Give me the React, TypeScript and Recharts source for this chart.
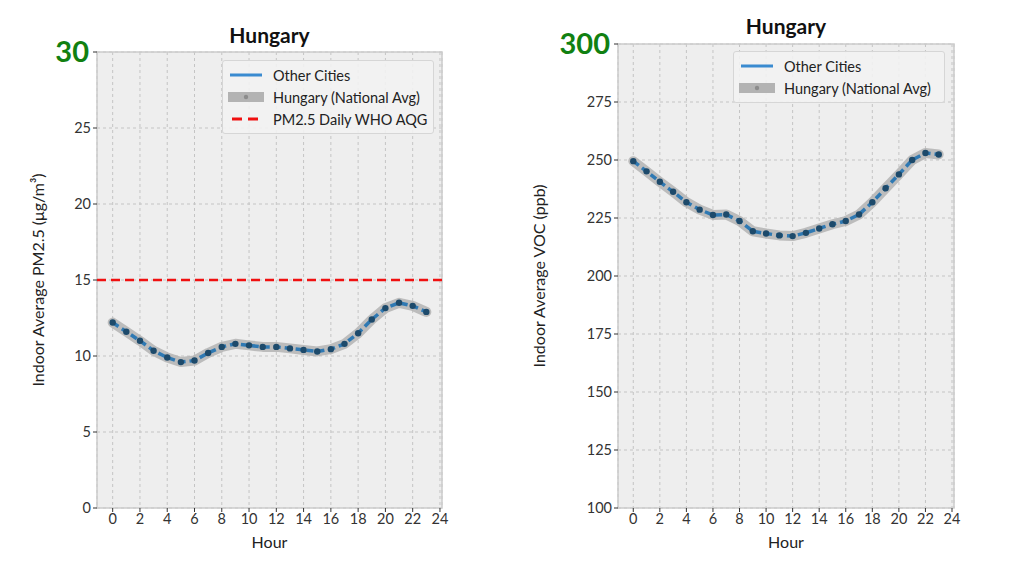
import React from "react";
import {
  CartesianGrid,
  Line,
  LineChart,
  ReferenceArea,
  ReferenceLine,
  XAxis,
  YAxis
} from "recharts";

const hours = [0, 1, 2, 3, 4, 5, 6, 7, 8, 9, 10, 11, 12, 13, 14, 15, 16, 17, 18, 19, 20, 21, 22, 23];
const hourTicks = [0, 2, 4, 6, 8, 10, 12, 14, 16, 18, 20, 22, 24];

const pm25Values = [
  12.2, 11.6, 11.0, 10.35, 9.9, 9.6, 9.7, 10.2, 10.6, 10.8, 10.7, 10.6,
  10.6, 10.5, 10.4, 10.3, 10.45, 10.8, 11.5, 12.4, 13.15, 13.5, 13.3, 12.9
];
const pm25Ticks = [0, 5, 10, 15, 20, 25, 30];
const pm25Guideline = 15;

const vocValues = [
  249.5, 245.1, 240.6, 236.3, 231.8, 228.6, 226.3, 226.5, 223.7, 219.3, 218.3, 217.5,
  217.2, 218.6, 220.5, 222.3, 223.7, 226.5, 231.8, 237.8, 243.8, 250.0, 253.0, 252.4
];
const vocTicks = [100, 125, 150, 175, 200, 225, 250, 275, 300];

const FONT = "Lato, 'Noto Sans', sans-serif";
const BLUE = "#2f79b3";
const DOT = "#1d4a6b";
const BAND = "#b3b3b3";

type LegendItem = { label: string; kind: "blue" | "band" | "red" };

function LegendBox(props: { items: LegendItem[] }): React.JSX.Element {
  return (
    <div
      style={{
        background: "rgba(242,242,242,0.9)",
        border: "1px solid #d6d6d6",
        borderRadius: 3,
        padding: "3px 5px",
        fontFamily: FONT,
        fontSize: 14.5,
        color: "#222",
        whiteSpace: "nowrap"
      }}
    >
      {props.items.map((item) => (
        <div key={item.label} style={{ display: "flex", alignItems: "center", height: 22 }}>
          <svg width={36} height={12} style={{ marginRight: 9, flexShrink: 0 }}>
            {item.kind === "blue" && <line x1={2} x2={34} y1={6} y2={6} stroke="#3a8bd0" strokeWidth={3} />}
            {item.kind === "band" && (
              <>
                <rect x={0} y={1} width={36} height={10} fill={BAND} />
                <circle cx={18} cy={6} r={2.2} fill="#8c8c8c" />
              </>
            )}
            {item.kind === "red" && (
              <line x1={4} x2={32} y1={6} y2={6} stroke="#f01010" strokeWidth={3} strokeDasharray="10 6" />
            )}
          </svg>
          <span>{item.label}</span>
        </div>
      ))}
    </div>
  );
}

function makeTick(topValue: number) {
  return function Tick(props: any): React.JSX.Element {
    const { x, y, payload } = props;
    if (payload.value === topValue) {
      return (
        <text x={x - 2} y={y} dy={10} textAnchor="end" fill="#118011" fontFamily={FONT} fontWeight={700} fontSize={29}>
          {payload.value}
        </text>
      );
    }
    return (
      <text x={x} y={y} dy={5} textAnchor="end" fill="#333" fontFamily={FONT} fontSize={14.5}>
        {payload.value}
      </text>
    );
  };
}

function yLabel(text: string, xPos: number) {
  return function YLabel(props: any): React.JSX.Element {
    const vb = props.viewBox;
    const cy = vb.y + vb.height / 2;
    return (
      <text
        x={xPos}
        y={cy}
        transform={`rotate(-90 ${xPos} ${cy})`}
        textAnchor="middle"
        fill="#222"
        fontFamily={FONT}
        fontSize={16}
      >
        {text}
      </text>
    );
  };
}

type PanelProps = {
  values: number[];
  yTicks: number[];
  yDomain: [number, number];
  yTitle: string;
  width: number;
  yAxisWidth: number;
  marginTop: number;
  marginRight: number;
  labelX: number;
  titleY: number;
  legendItems: LegendItem[];
  legendPos: { left: number; top: number; width: number };
  guideline?: number;
};

function Panel(props: PanelProps): React.JSX.Element {
  const data = hours.map((h, i) => ({ hour: h, value: props.values[i] }));
  const plotLeft = props.yAxisWidth;
  const plotRight = props.width - props.marginRight;
  return (
    <div style={{ position: "relative", width: props.width, height: 576 }}>
      <div
        style={{
          position: "absolute",
          left: plotLeft,
          width: plotRight - plotLeft,
          top: props.titleY,
          textAlign: "center",
          fontFamily: FONT,
          fontWeight: 700,
          fontSize: 21,
          color: "#111"
        }}
      >
        Hungary
      </div>
      <LineChart
        width={props.width}
        height={576}
        data={data}
        margin={{ top: props.marginTop, right: props.marginRight, bottom: 26, left: 0 }}
      >
        <CartesianGrid fill="#eeeeee" stroke="#c4c4c4" strokeDasharray="3 3" />
        <ReferenceArea
          x1={-1.15}
          x2={24.15}
          y1={props.yDomain[0]}
          y2={props.yDomain[1]}
          fill="none"
          stroke="#cccccc"
          strokeWidth={1.5}
        />
        <XAxis
          dataKey="hour"
          type="number"
          domain={[-1.15, 24.15]}
          ticks={hourTicks}
          interval={0}
          allowDataOverflow
          height={42}
          axisLine={false}
          tickLine={{ stroke: "#333" }}
          tickSize={4}
          tick={{ fontSize: 14.5, fill: "#333", fontFamily: FONT }}
          label={{ value: "Hour", position: "insideBottom", offset: 2, fontSize: 16, fill: "#222", fontFamily: FONT }}
        />
        <YAxis
          type="number"
          domain={props.yDomain}
          ticks={props.yTicks}
          interval={0}
          width={props.yAxisWidth}
          axisLine={false}
          tickLine={{ stroke: "#333" }}
          tickSize={4}
          tick={makeTick(props.yDomain[1])}
          label={{ content: yLabel(props.yTitle, props.labelX) }}
        />
        {props.guideline !== undefined && (
          <ReferenceLine y={props.guideline} stroke="#f01010" strokeWidth={2.5} strokeDasharray="9 5" />
        )}
        <Line
          type="linear"
          dataKey="value"
          stroke={BAND}
          strokeOpacity={0.85}
          strokeWidth={10}
          strokeLinejoin="round"
          strokeLinecap="round"
          dot={false}
          isAnimationActive={false}
          name="Hungary (National Avg)"
        />
        <Line
          type="linear"
          dataKey="value"
          stroke={BLUE}
          strokeWidth={3.5}
          strokeDasharray="7 4"
          dot={{ r: 3.2, fill: DOT, stroke: "none" }}
          isAnimationActive={false}
          name="Other Cities"
        />
      </LineChart>
      <div
        style={{
          position: "absolute",
          left: props.legendPos.left,
          top: props.legendPos.top,
          width: props.legendPos.width
        }}
      >
        <LegendBox items={props.legendItems} />
      </div>
    </div>
  );
}

export default function App(): React.JSX.Element {
  return (
    <div style={{ position: "fixed", left: 0, top: 0, width: 1024, height: 576, background: "#fff" }}>
      <div style={{ position: "absolute", left: 0, top: 0 }}>
        <Panel
          values={pm25Values}
          yTicks={pm25Ticks}
          yDomain={[0, 30]}
          yTitle="Indoor Average PM2.5 (μg/m³)"
          width={480}
          yAxisWidth={97}
          marginTop={52}
          marginRight={38}
          labelX={44}
          titleY={22}
          legendItems={[
            { label: "Other Cities", kind: "blue" },
            { label: "Hungary (National Avg)", kind: "band" },
            { label: "PM2.5 Daily WHO AQG", kind: "red" }
          ]}
          legendPos={{ left: 222, top: 60, width: 212 }}
          guideline={pm25Guideline}
        />
      </div>
      <div style={{ position: "absolute", left: 500, top: 0 }}>
        <Panel
          values={vocValues}
          yTicks={vocTicks}
          yDomain={[100, 300]}
          yTitle="Indoor Average VOC (ppb)"
          width={500}
          yAxisWidth={118}
          marginTop={44}
          marginRight={46}
          labelX={45}
          titleY={13}
          legendItems={[
            { label: "Other Cities", kind: "blue" },
            { label: "Hungary (National Avg)", kind: "band" }
          ]}
          legendPos={{ left: 233, top: 51, width: 212 }}
        />
      </div>
    </div>
  );
}
